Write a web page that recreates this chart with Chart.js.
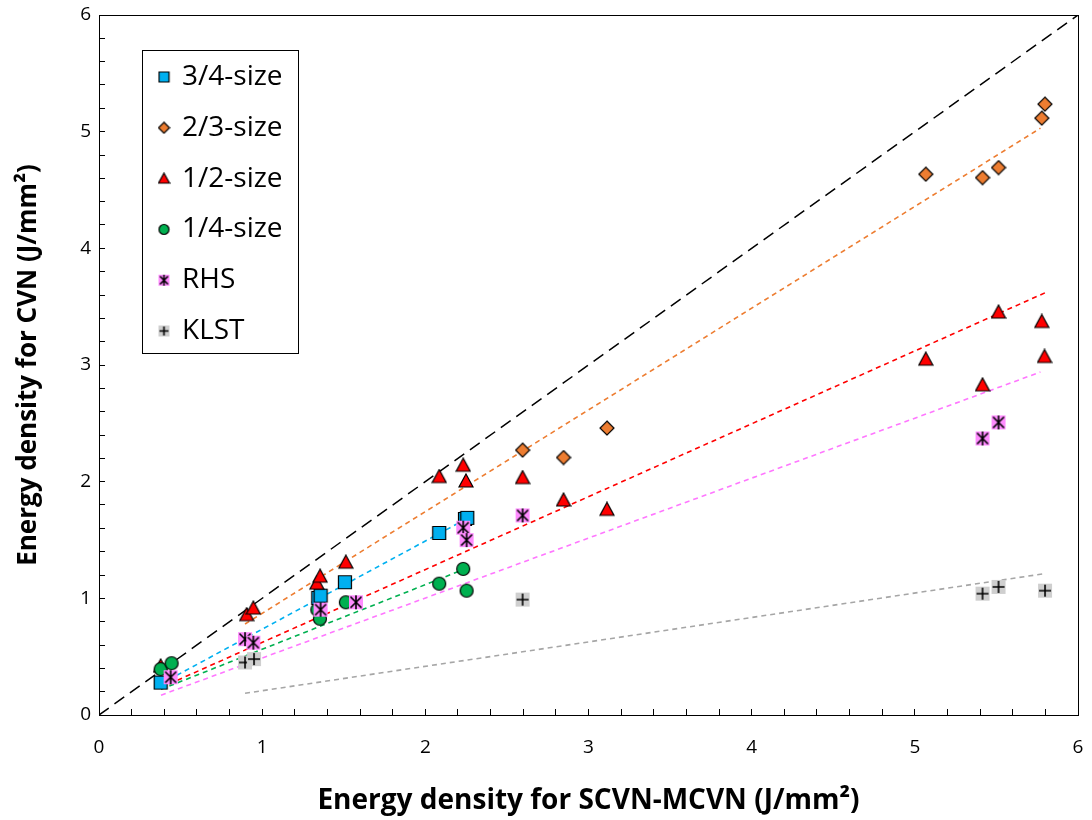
<!DOCTYPE html>
<html lang="en">
<head>
<meta charset="UTF-8">
<title>Energy density CVN vs SCVN-MCVN</title>
<script src="https://cdn.jsdelivr.net/npm/chart.js"></script>
<style>
  html, body { margin: 0; padding: 0; background: #fff; }
  .chart-box { width: 1092px; height: 820px; position: relative; }
</style>
</head>
<body>
<div class="chart-box"><canvas id="energyChart"></canvas></div>
<script>
// data (x = SCVN-MCVN, y = CVN, both J/mm2)
const size34X = [0.378, 1.344, 1.358, 1.507, 2.085, 2.243, 2.257];
const size34Y = [0.278, 1.003, 1.023, 1.138, 1.56, 1.68, 1.69];
const size23X = [2.596, 2.847, 3.113, 5.067, 5.415, 5.513, 5.778, 5.797];
const size23Y = [2.27, 2.207, 2.459, 4.635, 4.606, 4.692, 5.116, 5.236];
const size12X = [0.378, 0.905, 0.946, 1.335, 1.355, 1.513, 2.085, 2.232, 2.249, 2.596, 2.847, 3.113, 5.067, 5.415, 5.513, 5.778, 5.795];
const size12Y = [0.42, 0.86, 0.917, 1.13, 1.19, 1.31, 2.044, 2.141, 2.006, 2.035, 1.843, 1.763, 3.05, 2.83, 3.454, 3.373, 3.073];
const size14X = [0.378, 0.445, 1.338, 1.354, 1.513, 2.085, 2.232, 2.253];
const size14Y = [0.393, 0.444, 0.903, 0.825, 0.966, 1.126, 1.252, 1.066];
const rhsX = [0.439, 0.895, 0.946, 1.358, 1.575, 2.232, 2.253, 2.596, 5.415, 5.513];
const rhsY = [0.324, 0.65, 0.62, 0.903, 0.966, 1.605, 1.499, 1.711, 2.37, 2.508];
const klstX = [0.895, 0.95, 2.596, 5.415, 5.513, 5.798];
const klstY = [0.45, 0.479, 0.989, 1.04, 1.098, 1.066];

// trend line end points
const fit34X = [0.38, 2.25], fit34Y = [0.267, 1.68];
const fit23X = [0.895, 5.77], fit23Y = [0.78, 5.03];
const fit12X = [0.38, 5.80], fit12Y = [0.235, 3.62];
const fit14X = [0.38, 2.24], fit14Y = [0.22, 1.25];
const fitRhsX = [0.38, 5.77], fitRhsY = [0.17, 2.94];
const fitKlstX = [0.895, 5.797], fitKlstY = [0.186, 1.212];
const diagX = [0, 6], diagY = [0, 6];

const seriesNames = ['3/4-size', '2/3-size', '1/2-size', '1/4-size', 'RHS', 'KLST'];

function pts(xs, ys) { return xs.map((x, i) => ({ x: x, y: ys[i] })); }

// marker images, drawn once on small canvases
function makeMarker(kind, s) {
  const c = document.createElement('canvas');
  c.width = s + 2; c.height = s + 2;
  const g = c.getContext('2d');
  g.lineWidth = 1.2;
  g.strokeStyle = '#000';
  const m = 1, e = s + 1, h = (s + 2) / 2;
  g.beginPath();
  if (kind === 'square') {
    g.rect(m + 0.5, m + 0.5, s - 1, s - 1);
    g.fillStyle = '#00B0F0'; g.fill(); g.stroke();
  } else if (kind === 'diamond') {
    g.moveTo(h, m); g.lineTo(e, h); g.lineTo(h, e); g.lineTo(m, h); g.closePath();
    g.fillStyle = '#ED7D31'; g.fill(); g.stroke();
  } else if (kind === 'triangle') {
    g.moveTo(h, m); g.lineTo(e, e - 1); g.lineTo(m, e - 1); g.closePath();
    g.fillStyle = '#FF0000'; g.fill(); g.stroke();
  } else if (kind === 'circle') {
    g.arc(h, h, s / 2 - 0.5, 0, Math.PI * 2);
    g.fillStyle = '#00B050'; g.fill(); g.stroke();
  } else if (kind === 'rhs') {
    g.fillStyle = '#FF8CFF';
    g.fillRect(m, m, s, s);
    g.lineWidth = 1.6;
    g.moveTo(m + 1.5, m + 1.5); g.lineTo(e - 1.5, e - 1.5);
    g.moveTo(e - 1.5, m + 1.5); g.lineTo(m + 1.5, e - 1.5);
    g.moveTo(h, m); g.lineTo(h, e);
    g.stroke();
  } else if (kind === 'klst') {
    g.fillStyle = '#CFCFCF';
    g.fillRect(m, m, s, s);
    g.lineWidth = 1.6;
    g.moveTo(m + 1, h); g.lineTo(e - 1, h);
    g.moveTo(h, m + 1); g.lineTo(h, e - 1);
    g.stroke();
  }
  return c;
}

const markerKinds = ['square', 'diamond', 'triangle', 'circle', 'rhs', 'klst'];
const markers = markerKinds.map(k => makeMarker(k, 14));
const legendMarkers = markerKinds.map(k => makeMarker(k, 11));

function scatterSet(i, xs, ys, order) {
  return {
    label: seriesNames[i],
    data: pts(xs, ys),
    pointStyle: markers[i],
    showLine: false,
    order: order
  };
}

function fitSet(xs, ys, color, dash, width) {
  return {
    label: '',
    data: pts(xs, ys),
    showLine: true,
    borderColor: color,
    borderWidth: width,
    borderDash: dash,
    pointRadius: 0,
    fill: false,
    order: 20
  };
}

// plot frame + inside legend
const framePlugin = {
  id: 'frame',
  afterDraw(chart) {
    const { ctx, chartArea: a } = chart;
    ctx.save();
    ctx.strokeStyle = '#000';
    ctx.lineWidth = 1;
    ctx.strokeRect(Math.round(a.left) + 0.5, Math.round(a.top) + 0.5,
      Math.round(a.right - a.left), Math.round(a.bottom - a.top));

    // legend box
    const lx = 142.5, ly = 50.5, lw = 156, lh = 303;
    ctx.fillStyle = '#fff';
    ctx.fillRect(lx, ly, lw, lh);
    ctx.strokeRect(lx, ly, lw, lh);
    ctx.font = '28px "Open Sans", sans-serif';
    ctx.fillStyle = '#000';
    ctx.textBaseline = 'middle';
    seriesNames.forEach((name, i) => {
      const cy = 77 + i * 50.8;
      const img = legendMarkers[i];
      ctx.drawImage(img, 164 - img.width / 2, cy - img.height / 2);
      ctx.fillText(name, 182, cy);
    });
    ctx.restore();
  }
};

const tickCallback = v => (Math.abs(v - Math.round(v)) < 1e-6 ? String(Math.round(v)) : '');

const ctx = document.getElementById('energyChart').getContext('2d');
const energyChart = new Chart(ctx, {
  type: 'scatter',
  data: {
    datasets: [
      scatterSet(0, size34X, size34Y, 6),
      scatterSet(1, size23X, size23Y, 5),
      scatterSet(2, size12X, size12Y, 4),
      scatterSet(3, size14X, size14Y, 3),
      scatterSet(4, rhsX, rhsY, 2),
      scatterSet(5, klstX, klstY, 1),
      fitSet(diagX, diagY, '#000000', [12, 7], 1.5),
      fitSet(fit34X, fit34Y, '#00B0F0', [5, 4], 1.6),
      fitSet(fit23X, fit23Y, '#ED7D31', [5, 4], 1.6),
      fitSet(fit12X, fit12Y, '#FF0000', [5, 4], 1.6),
      fitSet(fit14X, fit14Y, '#00B050', [5, 4], 1.6),
      fitSet(fitRhsX, fitRhsY, '#FF77FF', [5, 4], 1.6),
      fitSet(fitKlstX, fitKlstY, '#A6A6A6', [5, 4], 1.6)
    ]
  },
  options: {
    responsive: true,
    maintainAspectRatio: false,
    animation: false,
    events: [],
    layout: { padding: { top: 15, right: 14, left: 0, bottom: 0 } },
    plugins: {
      legend: { display: false },
      tooltip: { enabled: false }
    },
    scales: {
      x: {
        type: 'linear',
        min: 0, max: 6,
        afterFit(scale) { scale.height = 105; scale.paddingLeft = 0; scale.paddingRight = 0; },
        grid: { drawOnChartArea: false, drawTicks: true, tickLength: -6, color: '#000', lineWidth: 1 },
        border: { display: true, color: '#000', width: 1 },
        ticks: {
          stepSize: 0.2, autoSkip: false, maxRotation: 0,
          padding: 27, color: '#000',
          font: { family: '"Open Sans", sans-serif', size: 19 },
          callback: tickCallback
        },
        title: {
          display: true,
          text: 'Energy density for SCVN-MCVN (J/mm²)',
          color: '#000',
          font: { family: '"Open Sans", sans-serif', size: 28, weight: 'bold' },
          padding: { top: 0, bottom: 2 }
        }
      },
      y: {
        type: 'linear',
        min: 0, max: 6,
        afterFit(scale) { scale.width = 99; scale.paddingTop = 0; scale.paddingBottom = 0; },
        grid: { drawOnChartArea: false, drawTicks: true, tickLength: -6, color: '#000', lineWidth: 1 },
        border: { display: true, color: '#000', width: 1 },
        ticks: {
          stepSize: 0.2, autoSkip: false,
          padding: 14, color: '#000',
          font: { family: '"Open Sans", sans-serif', size: 19 },
          callback: tickCallback
        },
        title: {
          display: true,
          text: 'Energy density for CVN (J/mm²)',
          color: '#000',
          font: { family: '"Open Sans", sans-serif', size: 26, weight: 'bold' },
          padding: { top: 13, bottom: 0 }
        }
      }
    }
  },
  plugins: [framePlugin]
});
</script>
</body>
</html>
